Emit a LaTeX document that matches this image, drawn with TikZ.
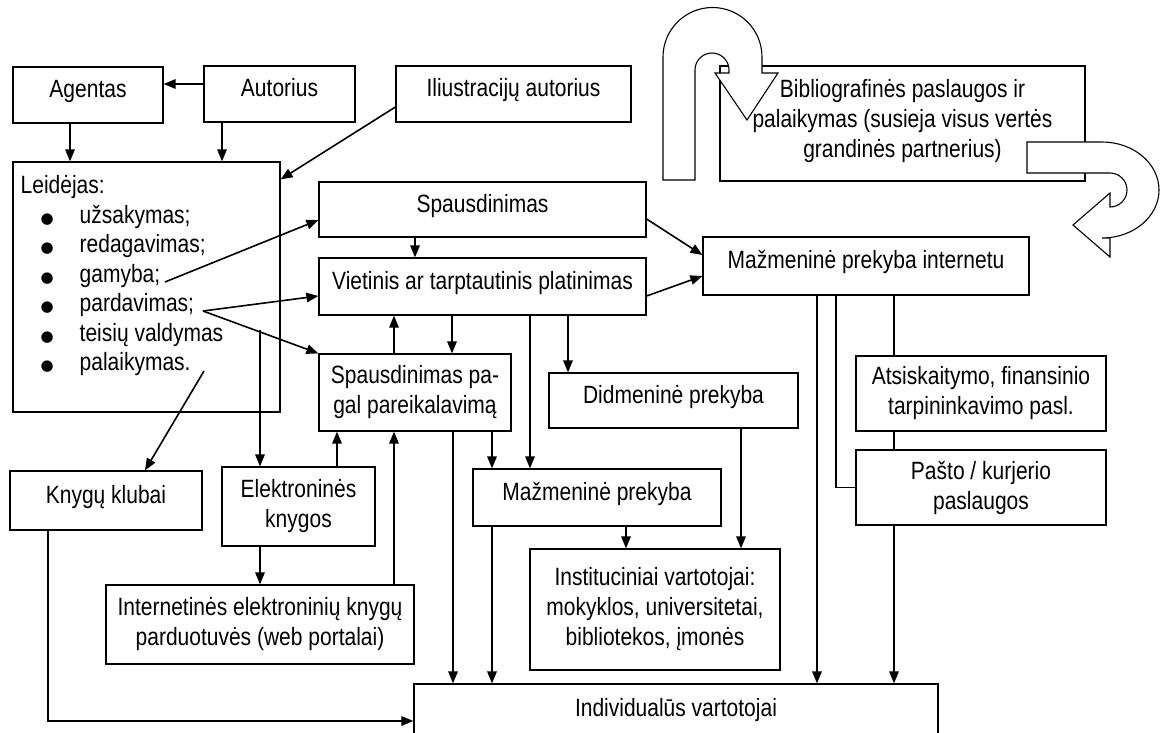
\documentclass[tikz,border=0pt]{standalone}
\usepackage{fontspec}
\setmainfont{Liberation Sans}[FakeStretch=0.84]
\newfontfamily\dejavu{DejaVu Sans}
\usetikzlibrary{arrows.meta}
\newcommand\leidbul{\hspace*{26.5pt}\makebox[0pt]{{\dejavu\fontsize{15}{15}\selectfont ●}}\hspace*{32.5pt}}
\begin{document}
\begin{tikzpicture}[x=1pt,y=-1pt,
  box/.style={draw, line width=1.2pt, inner sep=0pt, font=\fontsize{25}{30}\selectfont},
  sbox/.style={box, text height=18.2pt, text depth=12.5pt},
  mbox/.style={box, align=center},
  arr/.style={line width=1.6pt, -{Triangle[length=12pt,width=9.5pt]}},
  ln/.style={line width=1.6pt},
  blk/.style={draw, line width=1.1pt, fill=white, line join=miter}]
\useasboundingbox (0,0) rectangle (1162,733);
\fill[white] (0,0) rectangle (1162,733);
\clip (0,0) rectangle (1162,733);

% boxes
\node[sbox, minimum width=150pt, minimum height=56pt] (agent) at (88,95) {Agentas};
\node[sbox, minimum width=151pt, minimum height=56pt] (aut) at (279.5,94) {Autorius};
\node[sbox, minimum width=235pt, minimum height=56pt] (ilu) at (513.5,94) {Iliustracijų autorius};
\node[box, minimum width=365pt, minimum height=115pt] (bib) at (902.5,123.5) {};
\node[box, minimum width=267pt, minimum height=250pt] (leid) at (146.5,287) {};
\node[anchor=north west, inner sep=0pt, align=left, font=\fontsize{25}{29.5}\selectfont] (leidtext) at (20.5,175.5)
  {Leidėjas:\\
   \leidbul užsakymas;\\
   \leidbul redagavimas;\\
   \leidbul gamyba;\\
   \leidbul pardavimas;\\
   \leidbul teisių valdymas\\
   \leidbul palaikymas.};
\node[sbox, minimum width=327pt, minimum height=55pt] (sp) at (482.5,209.5) {Spausdinimas};
\node[sbox, minimum width=327pt, minimum height=57pt] (viet) at (482.5,286.5) {Vietinis ar tarptautinis platinimas};
\node[sbox, minimum width=326pt, minimum height=58pt] (mpi) at (866,266) {Mažmeninė prekyba internetu};
\node[mbox, minimum width=192pt, minimum height=77pt] (spp) at (415,392.5) {Spausdinimas pa-\\gal pareikalavimą};
\node[sbox, minimum width=249pt, minimum height=55pt] (didm) at (673.5,400.5) {Didmeninė prekyba};
\node[mbox, minimum width=250pt, minimum height=75pt] (atsisk) at (981,393.5) {Atsiskaitymo, finansinio\\tarpininkavimo pasl.};
\node[mbox, minimum width=250pt, minimum height=75pt] (pasto) at (981,487.5) {Pašto / kurjerio\\paslaugos};
\node[sbox, minimum width=192pt, minimum height=59pt] (knyg) at (106,500.5) {Knygų klubai};
\node[mbox, minimum width=153pt, minimum height=79pt] (elek) at (298.5,506.5) {Elektroninės\\knygos};
\node[sbox, minimum width=248pt, minimum height=57pt] (mazm) at (597,497.5) {Mažmeninė prekyba};
\node[mbox, minimum width=250pt, minimum height=121pt] (inst) at (655,609.5) {Instituciniai vartotojai:\\mokyklos, universitetai,\\bibliotekos, įmonės};
\node[mbox, minimum width=308pt, minimum height=79pt] (inet) at (260,624.5) {Internetinės elektroninių knygų\\parduotuvės (web portalai)};
\node[sbox, minimum width=524pt, minimum height=60pt] (indiv) at (676,714) {Individualūs vartotojai};

% block U-turn arrows
\draw[blk] (663,180) -- (663,57) arc[start angle=180, end angle=0, radius=49.5pt]
  -- (762,73) -- (778,73) -- (747,120) -- (715,73) -- (729,73) -- (729,70)
  arc[start angle=0, end angle=180, radius=17pt] -- (695,180) -- cycle;
\draw[blk] (1027,142) -- (1102,142) arc[start angle=90, end angle=-90, x radius=57pt, y radius=48pt]
  -- (1110,238) -- (1110,257) -- (1073,225) -- (1110,193) -- (1110,207)
  arc[start angle=-90, end angle=90, radius=17pt] -- (1027,173) -- cycle;
\node[align=center, inner sep=0pt, font=\fontsize{25}{30}\selectfont] (bibtext) at ([yshift=2pt]bib.center)
  {Bibliografinės paslaugos ir\\palaikymas (susieja visus vertės\\grandinės partnerius)};

% free ends inside the publisher box
\coordinate (gam) at (165,282);
\coordinate (pard) at (203,311);
\coordinate (pal) at (204,371);
\coordinate (tv) at (260,330);

% connectors
\draw[arr] ([yshift=10pt]aut.west) -- ([yshift=10pt]aut.west -| agent.east);
\draw[arr] ([xshift=-18pt]agent.south) -- ([xshift=-18pt]agent.south |- leid.north);
\draw[arr] ([xshift=-57.5pt]aut.south) -- ([xshift=-57.5pt]aut.south |- leid.north);
\draw[arr] ([yshift=-13pt]ilu.west) -- ([yshift=-18pt]leid.north east);
\draw[arr] (gam) -- ([yshift=-10.5pt]sp.west);
\draw[arr] (pard) -- ([yshift=-9.5pt]viet.west);
\draw[arr] (pard) -- (spp.north west);
\draw[arr] (pal) -- ([xshift=39pt]knyg.north);
\draw[arr] (tv) -- (tv |- elek.north);
\draw[arr] ([xshift=-67.5pt]sp.south) -- ([xshift=-67.5pt]sp.south |- viet.north);
\draw[arr] ([xshift=-21pt]spp.north) -- ([xshift=-21pt]spp.north |- viet.south);
\draw[arr] ([xshift=37pt]spp.north |- viet.south) -- ([xshift=37pt]spp.north);
\draw[arr] ([xshift=-67pt]mazm.north |- viet.south) -- ([xshift=-67pt]mazm.north);
\draw[arr] ([xshift=-105.5pt]didm.north |- viet.south) -- ([xshift=-105.5pt]didm.north);
\draw[arr] ([yshift=-9.5pt]sp.east) -- ([yshift=11pt]mpi.west);
\draw[arr] ([yshift=-9.5pt]viet.east) -- ([yshift=-10pt]mpi.west);
\draw[arr] ([xshift=38.5pt]elek.north) -- ([xshift=38.5pt]elek.north |- spp.south);
\draw[arr] ([xshift=134pt]inet.north) -- ([xshift=134pt]inet.north |- spp.south);
\draw[arr] ([xshift=-38.5pt]elek.south) -- ([xshift=-38.5pt]elek.south |- inet.north);
\draw[arr] ([xshift=38pt]spp.south) -- ([xshift=38pt]spp.south |- indiv.north);
\draw[arr] ([xshift=77pt]spp.south) -- ([xshift=77pt]spp.south |- mazm.north);
\draw[arr] ([xshift=-105pt]mazm.south) -- ([xshift=-105pt]mazm.south |- indiv.north);
\draw[arr] ([xshift=29pt]mazm.south) -- ([xshift=29pt]mazm.south |- inst.north);
\draw[arr] ([xshift=67.5pt]didm.south) -- ([xshift=67.5pt]didm.south |- inst.north);
\draw[arr] ([xshift=-58pt]knyg.south) |- ([yshift=-7pt]indiv.west);
\draw[arr] ([xshift=-49pt]mpi.south) -- ([xshift=-49pt]mpi.south |- indiv.north);
\draw[ln] ([xshift=-30pt]mpi.south) |- (pasto.west);
\draw[ln] ([xshift=-87pt]atsisk.north |- mpi.south) -- ([xshift=-87pt]atsisk.north);
\draw[ln] ([xshift=-87pt]atsisk.south) -- ([xshift=-87pt]pasto.north);
\draw[arr] ([xshift=-87pt]pasto.south) -- ([xshift=-87pt]pasto.south |- indiv.north);
\end{tikzpicture}
\end{document}
